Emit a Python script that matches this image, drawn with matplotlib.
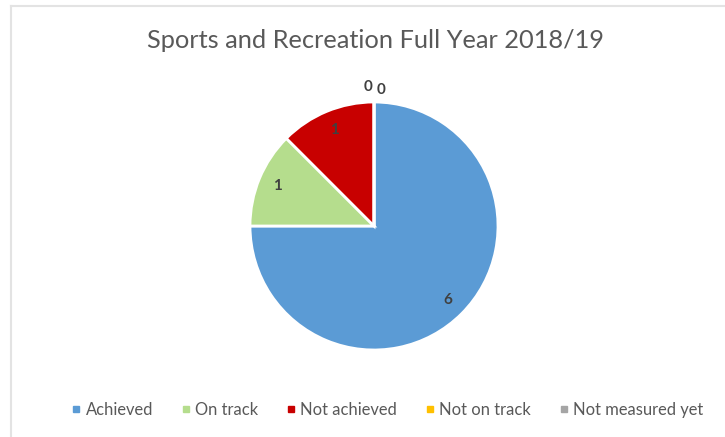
import matplotlib
matplotlib.use('Agg')
import numpy as np
import matplotlib.pyplot as plt
from matplotlib.lines import Line2D

plt.rcParams['font.family'] = ['Lato', 'DejaVu Sans']

# 数据
categories = ['Achieved', 'On track', 'Not achieved', 'Not on track', 'Not measured yet']
values = [6, 1, 1, 0, 0]
colors = ['#5B9BD5', '#B5DD8D', '#C80000', '#FFC000', '#A5A5A5']
title = 'Sports and Recreation Full Year 2018/19'

fig = plt.figure(figsize=(7.25, 4.37), dpi=100)

# 图表边框
fig.add_artist(Line2D([11 / 725, 11 / 725], [0, 1 - 6 / 437], color='#E3E3E3', lw=1.5))
fig.add_artist(Line2D([11 / 725, 1], [1 - 6 / 437, 1 - 6 / 437], color='#E3E3E3', lw=1.5))

ax = fig.add_axes([250 / 725, 87 / 437, 248 / 725, 248 / 437])
wedges, _ = ax.pie(values, colors=colors, startangle=90, counterclock=False,
                   wedgeprops=dict(edgecolor='white', linewidth=2))
ax.set_xlim(-1, 1)
ax.set_ylim(-1, 1)
ax.set_aspect('equal')

# 数据标签
zero_count = 0
for w, v in zip(wedges, values):
    ang = np.deg2rad((w.theta1 + w.theta2) / 2)
    if v > 0:
        x, y = 0.84 * np.cos(ang), 0.84 * np.sin(ang)
    else:
        x = -0.05 + 0.11 * zero_count
        y = 1.12 - 0.02 * zero_count
        zero_count += 1
    ax.text(x, y, str(v), ha='center', va='center', fontsize=11,
            fontweight='bold', color='#404040', clip_on=False)

fig.text(0.518, 0.908, title, ha='center', va='center', fontsize=18.3, color='#595959')

handles = [Line2D([], [], marker='s', linestyle='', markersize=5,
                  markerfacecolor=c, markeredgecolor=c) for c in colors]
fig.legend(handles, categories, loc='center', bbox_to_anchor=(0.532, 0.062), ncol=5,
           frameon=False, fontsize=11.9, labelcolor='#595959', handletextpad=0.05,
           columnspacing=1.5, handlelength=1.0)

fig.savefig('out.png', dpi=100)
